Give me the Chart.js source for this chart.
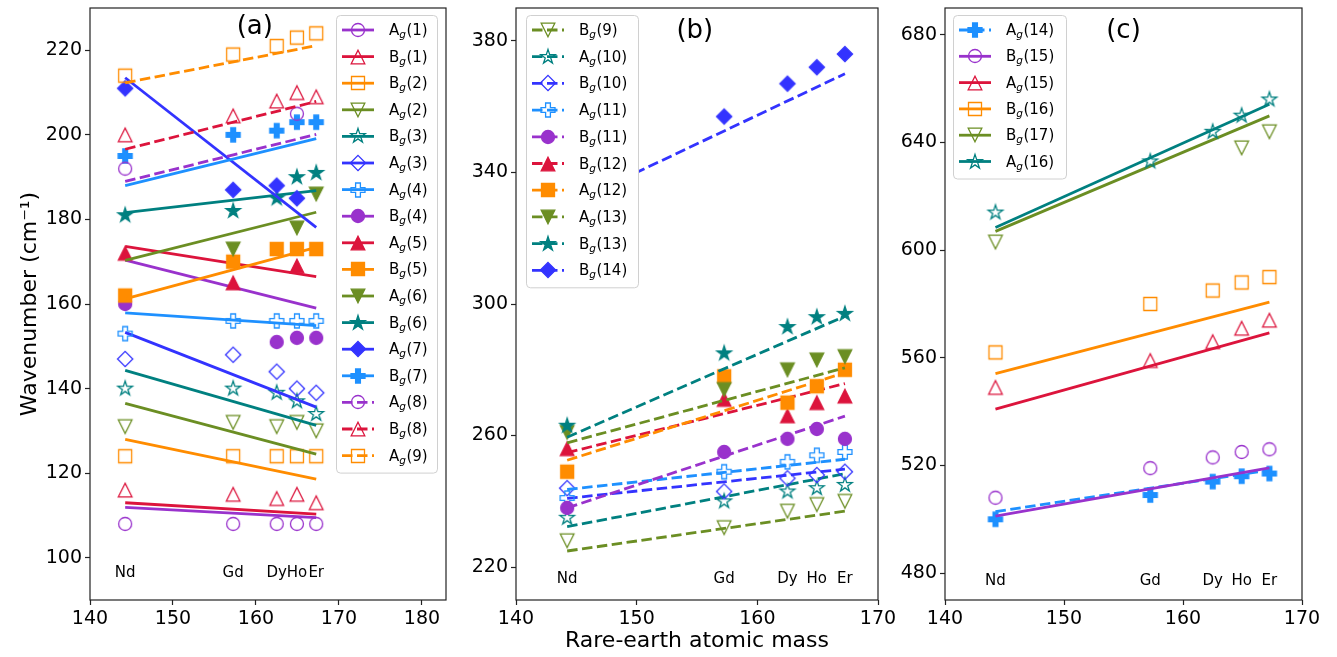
<!DOCTYPE html>
<html><head><meta charset="utf-8">
<script src="https://cdn.jsdelivr.net/npm/chart.js@4.4.0/dist/chart.umd.min.js"></script>
<style>
html,body{margin:0;padding:0;background:#fff;width:1337px;height:657px;overflow:hidden;}
canvas{position:absolute;top:0;}
</style></head><body>
<canvas id="ca" width="460" height="657" style="left:0px"></canvas>
<canvas id="cb" width="450" height="657" style="left:460px"></canvas>
<canvas id="cc" width="447" height="657" style="left:890px"></canvas>
<script>
// ---------- shared categories ----------
const elements = ['Nd','Gd','Dy','Ho','Er'];
const masses = [144.24, 157.25, 162.50, 164.93, 167.26];
const fitMasses = [144.24, 167.26];

// ---------- panel (a) ----------
const a_xTicks = [140,150,160,170,180];
const a_yTicks = [100,120,140,160,180,200,220];
const a_Ag1 = [108,108,108,108,108];      const a_Ag1_fit = [111.9,109.5];
const a_Bg1 = [116,115,114,115,113];      const a_Bg1_fit = [113.0,110.3];
const a_Bg2 = [124,124,124,124,124];      const a_Bg2_fit = [128.0,118.6];
const a_Ag2 = [131,132,131,132,130];      const a_Ag2_fit = [136.5,124.5];
const a_Bg3 = [140,140,139,137,134];      const a_Bg3_fit = [144.3,131.3];
const a_Ag3 = [147,148,144,140,139];      const a_Ag3_fit = [153.3,135.6];
const a_Ag4 = [153,156,156,156,156];      const a_Ag4_fit = [157.9,154.9];
const a_Bg4 = [160,null,151,152,152];     const a_Bg4_fit = [170.4,159.0];
const a_Ag5 = [172,165,null,169,null];    const a_Ag5_fit = [173.6,166.5];
const a_Bg5 = [162,170,173,173,173];      const a_Bg5_fit = [161.2,173.4];
const a_Ag6 = [null,173,null,178,186];    const a_Ag6_fit = [170.3,181.7];
const a_Bg6 = [181,182,185,190,191];      const a_Bg6_fit = [181.6,186.8];
const a_Ag7 = [211,187,188,185,null];     const a_Ag7_fit = [213.5,178.1];
const a_Bg7 = [195,200,201,203,203];      const a_Bg7_fit = [188.0,199.1];
const a_Ag8 = [192,null,null,205,null];   const a_Ag8_fit = [189.0,200.1];
const a_Bg8 = [200,204.5,208,210,209];    const a_Bg8_fit = [196.6,207.9];
const a_Ag9 = [214,219,221,223,224];      const a_Ag9_fit = [212.3,221.1];

// ---------- panel (b) ----------
const b_xTicks = [140,150,160,170];
const b_yTicks = [220,260,300,340,380];
const b_Bg9  = [228,232,237,239,240];     const b_Bg9_fit  = [224.9,237.0];
const b_Ag10 = [235,240,243,244,245];     const b_Ag10_fit = [232.3,248.4];
const b_Bg10 = [244,243,247,248,249];     const b_Bg10_fit = [240.9,249.8];
const b_Ag11 = [241,249,252,254,255];     const b_Ag11_fit = [243.6,252.8];
const b_Bg11 = [238,255,259,262,259];     const b_Bg11_fit = [238.0,265.9];
const b_Bg12 = [256,271,266,270,272];     const b_Bg12_fit = [254.8,275.8];
const b_Ag12 = [249,278,270,275,280];     const b_Ag12_fit = [252.5,279.1];
const b_Ag13 = [261,274,280,283,284];     const b_Ag13_fit = [257.8,280.6];
const b_Bg13 = [263,285,293,296,297];     const b_Bg13_fit = [259.5,296.3];
const b_Bg14 = [null,357,367,372,376];    const b_Bg14_fit = [330.0,370.0];

// ---------- panel (c) ----------
const c_xTicks = [140,150,160,170];
const c_yTicks = [480,520,560,600,640,680];
const c_Ag14 = [500,509,514,516,517];     const c_Ag14_fit = [502.8,518.3];
const c_Bg15 = [508,519,523,525,526];     const c_Bg15_fit = [501.2,519.1];
const c_Ag15 = [549,559,566,571,574];     const c_Ag15_fit = [540.9,569.3];
const c_Bg16 = [562,580,585,588,590];     const c_Bg16_fit = [554.1,580.7];
const c_Bg17 = [603,null,null,638,644];   const c_Bg17_fit = [607.0,649.9];
const c_Ag16 = [614,633,644,650,656];     const c_Ag16_fit = [608.4,654.2];

// ---------- styles ----------
const COL = {purple:'#9932CC', red:'#DC143C', orange:'#FF8C00', olive:'#6B8E23',
             teal:'#008080', blue:'#3333FF', dodger:'#1E90FF'};
const FONT = 'DejaVu Sans';

function S(label, pts, fit, color, shape, filled, dashed){
  return {label, pts, fit, color, shape, filled, dashed};
}
const seriesA = [
  S('Ag(1)', a_Ag1, a_Ag1_fit, COL.purple, 'circle', false, false),
  S('Bg(1)', a_Bg1, a_Bg1_fit, COL.red, 'tri', false, false),
  S('Bg(2)', a_Bg2, a_Bg2_fit, COL.orange, 'square', false, false),
  S('Ag(2)', a_Ag2, a_Ag2_fit, COL.olive, 'tridown', false, false),
  S('Bg(3)', a_Bg3, a_Bg3_fit, COL.teal, 'star', false, false),
  S('Ag(3)', a_Ag3, a_Ag3_fit, COL.blue, 'diamond', false, false),
  S('Ag(4)', a_Ag4, a_Ag4_fit, COL.dodger, 'plus', false, false),
  S('Bg(4)', a_Bg4, a_Bg4_fit, COL.purple, 'circle', true, false),
  S('Ag(5)', a_Ag5, a_Ag5_fit, COL.red, 'tri', true, false),
  S('Bg(5)', a_Bg5, a_Bg5_fit, COL.orange, 'square', true, false),
  S('Ag(6)', a_Ag6, a_Ag6_fit, COL.olive, 'tridown', true, false),
  S('Bg(6)', a_Bg6, a_Bg6_fit, COL.teal, 'star', true, false),
  S('Ag(7)', a_Ag7, a_Ag7_fit, COL.blue, 'diamond', true, false),
  S('Bg(7)', a_Bg7, a_Bg7_fit, COL.dodger, 'plus', true, false),
  S('Ag(8)', a_Ag8, a_Ag8_fit, COL.purple, 'circle', false, true),
  S('Bg(8)', a_Bg8, a_Bg8_fit, COL.red, 'tri', false, true),
  S('Ag(9)', a_Ag9, a_Ag9_fit, COL.orange, 'square', false, true)
];
const seriesB = [
  S('Bg(9)',  b_Bg9,  b_Bg9_fit,  COL.olive, 'tridown', false, true),
  S('Ag(10)', b_Ag10, b_Ag10_fit, COL.teal, 'star', false, true),
  S('Bg(10)', b_Bg10, b_Bg10_fit, COL.blue, 'diamond', false, true),
  S('Ag(11)', b_Ag11, b_Ag11_fit, COL.dodger, 'plus', false, true),
  S('Bg(11)', b_Bg11, b_Bg11_fit, COL.purple, 'circle', true, true),
  S('Bg(12)', b_Bg12, b_Bg12_fit, COL.red, 'tri', true, true),
  S('Ag(12)', b_Ag12, b_Ag12_fit, COL.orange, 'square', true, true),
  S('Ag(13)', b_Ag13, b_Ag13_fit, COL.olive, 'tridown', true, true),
  S('Bg(13)', b_Bg13, b_Bg13_fit, COL.teal, 'star', true, true),
  S('Bg(14)', b_Bg14, b_Bg14_fit, COL.blue, 'diamond', true, true)
];
const seriesC = [
  S('Ag(14)', c_Ag14, c_Ag14_fit, COL.dodger, 'plus', true, true),
  S('Bg(15)', c_Bg15, c_Bg15_fit, COL.purple, 'circle', false, false),
  S('Ag(15)', c_Ag15, c_Ag15_fit, COL.red, 'tri', false, false),
  S('Bg(16)', c_Bg16, c_Bg16_fit, COL.orange, 'square', false, false),
  S('Bg(17)', c_Bg17, c_Bg17_fit, COL.olive, 'tridown', false, false),
  S('Ag(16)', c_Ag16, c_Ag16_fit, COL.teal, 'star', false, false)
];

// ---------- marker images (matplotlib-like shapes) ----------
function markerCanvas(shape, color, filled){
  const N = 22, c = document.createElement('canvas');
  c.width = N; c.height = N;
  const g = c.getContext('2d');
  g.translate(N/2, N/2);
  g.beginPath();
  if (shape === 'circle') { g.arc(0,0,6.5,0,Math.PI*2); }
  else if (shape === 'tri') { g.moveTo(0,-6.8); g.lineTo(6.8,6.8); g.lineTo(-6.8,6.8); g.closePath(); }
  else if (shape === 'tridown') { g.moveTo(0,6.8); g.lineTo(6.8,-6.8); g.lineTo(-6.8,-6.8); g.closePath(); }
  else if (shape === 'square') { g.rect(-6.5,-6.5,13,13); }
  else if (shape === 'diamond') { g.moveTo(0,-7.6); g.lineTo(7.6,0); g.lineTo(0,7.6); g.lineTo(-7.6,0); g.closePath(); }
  else if (shape === 'star') {
    const R = 7.6, r = R*0.382;
    for (let k=0;k<10;k++){
      const ang = -Math.PI/2 + k*Math.PI/5, rr = k%2 ? r : R;
      const px = Math.cos(ang)*rr, py = Math.sin(ang)*rr;
      k ? g.lineTo(px,py) : g.moveTo(px,py);
    }
    g.closePath();
  } else if (shape === 'plus') {
    const a = 7, t = 2.4;
    g.moveTo(-t,-a); g.lineTo(t,-a); g.lineTo(t,-t); g.lineTo(a,-t); g.lineTo(a,t); g.lineTo(t,t);
    g.lineTo(t,a); g.lineTo(-t,a); g.lineTo(-t,t); g.lineTo(-a,t); g.lineTo(-a,-t); g.lineTo(-t,-t); g.closePath();
  }
  if (filled) { g.fillStyle = color; g.fill(); }
  g.lineWidth = 1.3; g.strokeStyle = color; g.lineJoin = 'miter'; g.stroke();
  return c;
}
[seriesA, seriesB, seriesC].forEach(list => list.forEach(s => { s.img = markerCanvas(s.shape, s.color, s.filled); }));

const DASH = [10.5, 4.5];
function makeDatasets(series){
  const ds = [];
  series.forEach((s,i) => {
    ds.push({
      label: s.label,
      data: masses.map((m,k) => s.pts[k] == null ? null : {x:m, y:s.pts[k]}).filter(Boolean),
      showLine: false, pointStyle: s.img, pointRadius: 7, pointHoverRadius: 7,
      borderColor: s.color, backgroundColor: s.color, order: 1000 - 2*i
    });
    ds.push({
      label: s.label + ' fit',
      data: fitMasses.map((m,k) => ({x:m, y:s.fit[k]})),
      showLine: true, pointRadius: 0, pointHoverRadius: 0, borderColor: s.color,
      backgroundColor: s.color, borderWidth: 2.8, borderDash: s.dashed ? DASH : [],
      fill: false, tension: 0, order: 1000 - 2*i - 1
    });
  });
  return ds;
}

function drawLabel(ctx, label, x, by){
  ctx.font = '15px "' + FONT + '"';
  ctx.fillText(label[0], x, by); x += ctx.measureText(label[0]).width;
  ctx.font = 'italic 10.5px "' + FONT + '"';
  ctx.fillText('g', x, by + 3); x += ctx.measureText('g').width + 0.5;
  ctx.font = '15px "' + FONT + '"';
  ctx.fillText(label.slice(2), x, by);
}

function drawLegend(ctx, series, x0, w, rowH){
  const y0 = 15, n = series.length;
  const h = 15 + (n-1)*rowH + 17;
  ctx.save();
  ctx.beginPath();
  if (ctx.roundRect) ctx.roundRect(x0+0.5, y0+0.5, w, h, 4); else ctx.rect(x0+0.5, y0+0.5, w, h);
  ctx.fillStyle = '#ffffff'; ctx.fill();
  ctx.lineWidth = 1; ctx.strokeStyle = '#d0d0d0'; ctx.stroke();
  series.forEach((s,i) => {
    const cy = y0 + 15 + i*rowH;
    ctx.beginPath();
    ctx.setLineDash(s.dashed ? DASH : []);
    ctx.lineWidth = 2.8; ctx.strokeStyle = s.color;
    ctx.moveTo(x0+6, cy); ctx.lineTo(x0+38, cy); ctx.stroke();
    ctx.setLineDash([]);
    ctx.drawImage(s.img, Math.round(x0+22-11), Math.round(cy-11));
    ctx.fillStyle = '#000'; ctx.textAlign = 'left'; ctx.textBaseline = 'alphabetic';
    drawLabel(ctx, s.label, x0+53, cy+5);
  });
  ctx.restore();
}

function makeChart(id, cfg){
  const deco = {
    id: 'deco_' + id,
    afterDatasetsDraw(chart){
      const ctx = chart.ctx, a = chart.chartArea, xs = chart.scales.x, ys = chart.scales.y;
      ctx.save();
      ctx.fillStyle = '#000'; ctx.font = '15px "' + FONT + '"';
      ctx.textAlign = 'center'; ctx.textBaseline = 'middle';
      elements.forEach((e,k) => ctx.fillText(e, xs.getPixelForValue(masses[k]), ys.getPixelForValue(cfg.labelY)));
      ctx.font = '26px "' + FONT + '"';
      ctx.fillText(cfg.title, a.left + cfg.titleFx*(a.right-a.left), cfg.titleY);
      ctx.restore();
    },
    afterDraw(chart){
      const ctx = chart.ctx, a = chart.chartArea;
      ctx.save();
      ctx.strokeStyle = '#222'; ctx.lineWidth = 1.2;
      ctx.strokeRect(a.left, a.top, a.right - a.left, a.bottom - a.top);
      ctx.fillStyle = '#000'; ctx.textAlign = 'center'; ctx.textBaseline = 'middle';
      ctx.font = '22px "' + FONT + '"';
      if (cfg.yTitle) {
        ctx.save(); ctx.translate(30, (a.top + a.bottom)/2); ctx.rotate(-Math.PI/2);
        ctx.fillText(cfg.yTitle, 0, 0); ctx.restore();
      }
      if (cfg.xTitle) ctx.fillText(cfg.xTitle, (a.left + a.right)/2, 641);
      ctx.restore();
      const lx = cfg.legendSide === 'right' ? a.right - cfg.legendOff : a.left + cfg.legendOff;
      drawLegend(ctx, cfg.series, lx, cfg.legendW, cfg.rowH);
    }
  };
  const tickFont = {family: FONT, size: 19};
  const gridOpt = {display:true, drawOnChartArea:false, drawTicks:true, tickLength:5, tickWidth:1.2, tickColor:'#222'};
  return new Chart(document.getElementById(id), {
    type: 'scatter',
    data: {datasets: makeDatasets(cfg.series)},
    options: {
      responsive: false, animation: false, events: [],
      layout: {padding: {top: 5, right: cfg.padR, left: 0, bottom: 0}},
      plugins: {legend: {display:false}, tooltip: {enabled:false}},
      scales: {
        x: {type:'linear', min: cfg.xMin, max: cfg.xMax,
            afterBuildTicks: s => { s.ticks = cfg.xTicks.map(v => ({value:v})); },
            afterFit: s => { s.height = 57; s.paddingLeft = 0; s.paddingRight = 0; },
            ticks: {font: tickFont, color:'#000', padding: 3, maxRotation: 0, autoSkip: false},
            grid: gridOpt, border: {display:false}},
        y: {type:'linear', min: cfg.yMin, max: cfg.yMax,
            afterBuildTicks: s => { s.ticks = cfg.yTicks.map(v => ({value:v})); },
            afterFit: s => { s.width = cfg.axisW; s.paddingTop = 0; s.paddingBottom = 0; },
            ticks: {font: tickFont, color:'#000', padding: 3, autoSkip: false},
            grid: gridOpt, border: {display:false}}
      }
    },
    plugins: [deco]
  });
}

makeChart('ca', {series: seriesA, xMin:140, xMax:182.9, yMin:90, yMax:230,
  xTicks: a_xTicks, yTicks: a_yTicks, axisW: 90, padR: 14, labelY: 96.3,
  title: '(a)', titleFx: 0.463, titleY: 27, yTitle: 'Wavenumber (cm\u207B\u00B9)',
  legendSide: 'right', legendOff: 110, legendW: 101, rowH: 26.6});
makeChart('cb', {series: seriesB, xMin:140, xMax:170, yMin:210, yMax:390,
  xTicks: b_xTicks, yTicks: b_yTicks, axisW: 56, padR: 32, labelY: 216.4,
  title: '(b)', titleFx: 0.494, titleY: 31, xTitle: 'Rare-earth atomic mass',
  legendSide: 'left', legendOff: 10, legendW: 112, rowH: 26.7});
makeChart('cc', {series: seriesC, xMin:140, xMax:170, yMin:470, yMax:690,
  xTicks: c_xTicks, yTicks: c_yTicks, axisW: 55, padR: 35, labelY: 477,
  title: '(c)', titleFx: 0.5, titleY: 31,
  legendSide: 'left', legendOff: 8, legendW: 113, rowH: 26.3});
</script>
</body></html>
